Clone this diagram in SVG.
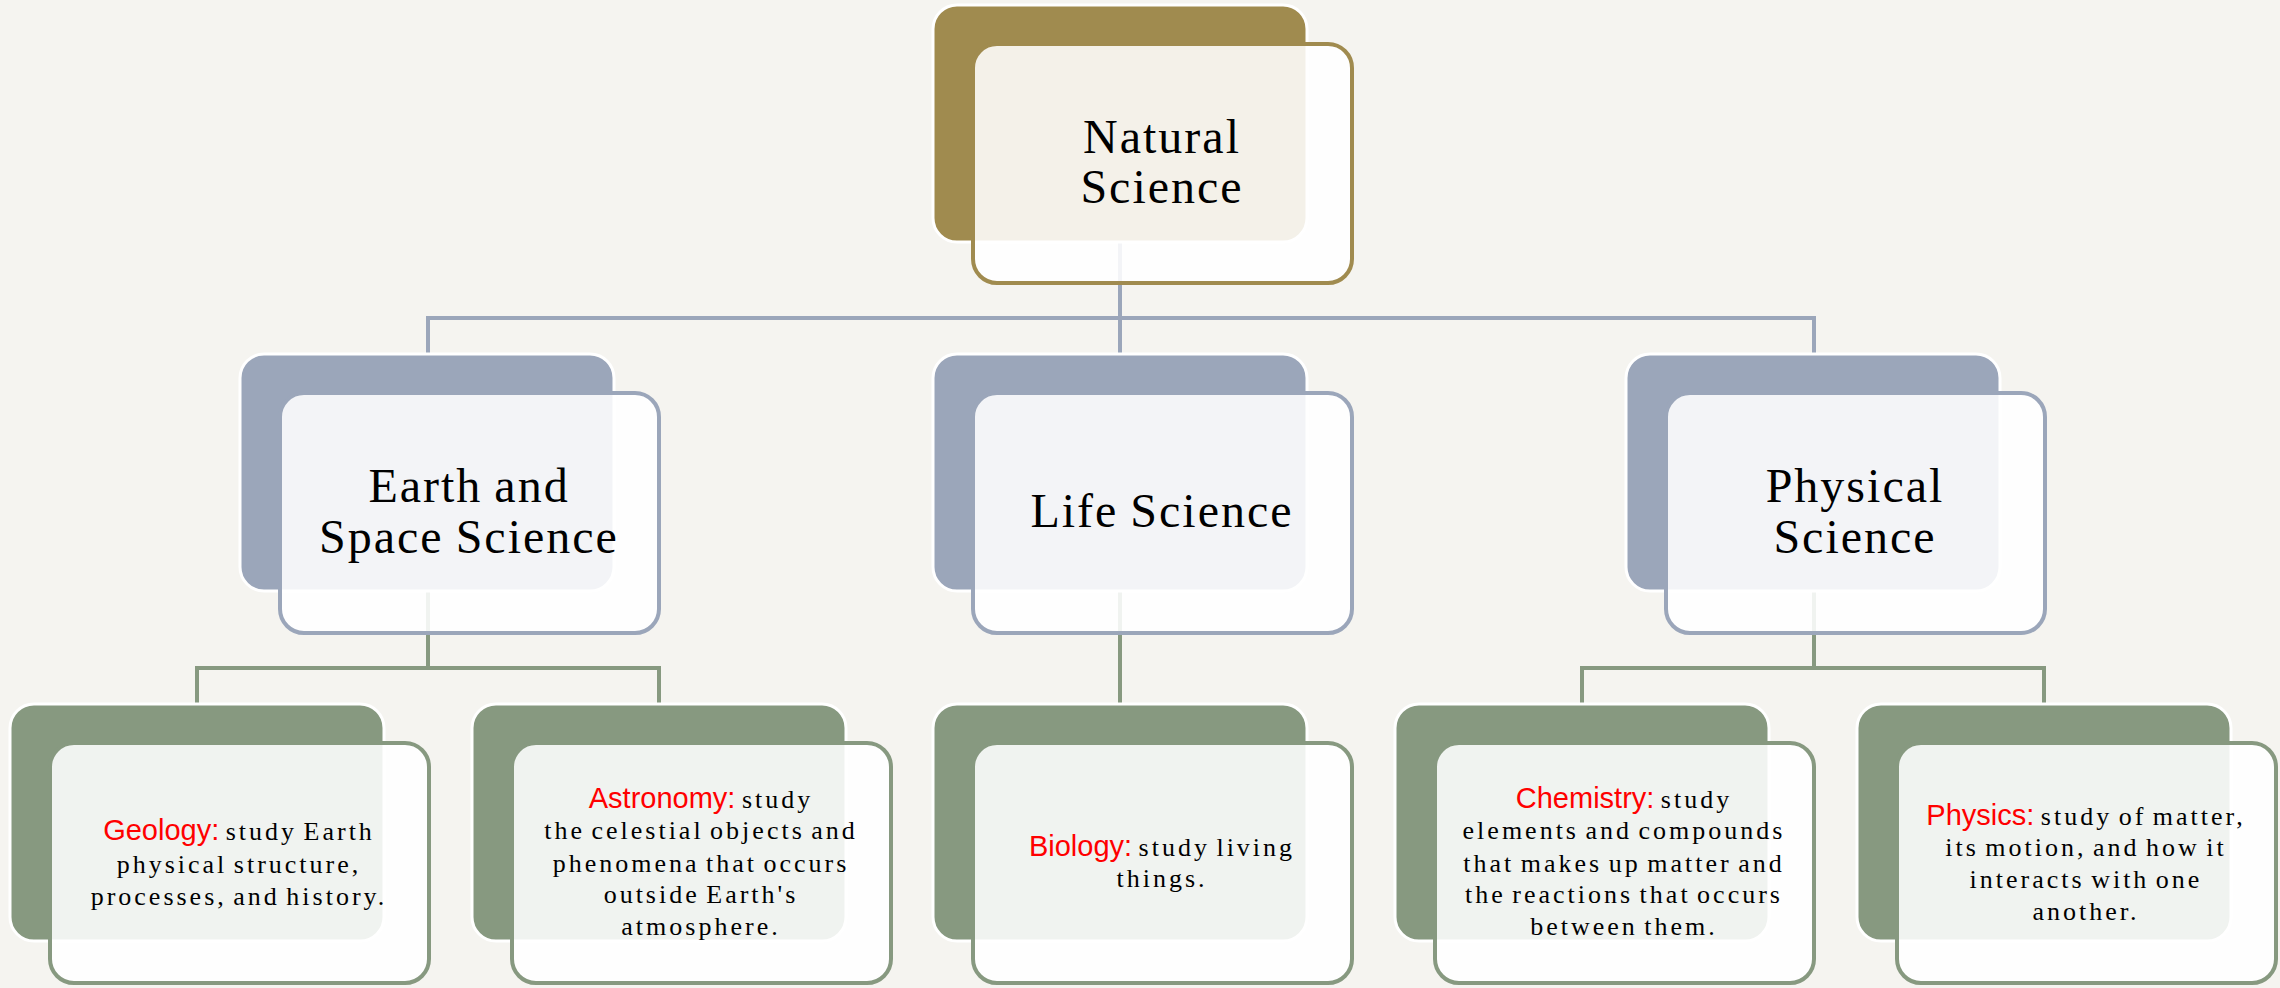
<svg xmlns="http://www.w3.org/2000/svg" width="2280" height="988" viewBox="0 0 2280 988">
<style>
.bg{fill:#F5F4F0}
.back{stroke:#FFFFFF;stroke-width:3}
.gold{fill:#A08B4F}
.blue{fill:#9BA6BA}
.green{fill:#879980}
.front{fill:#FFFFFF;fill-opacity:0.88;stroke-width:4}
.fgold{stroke:#A08B4F}
.fblue{stroke:#9BA6BA}
.fgreen{stroke:#879980}
.cblue{fill:none;stroke:#9BA6BA;stroke-width:4}
.cgreen{fill:none;stroke:#879980;stroke-width:4}
.title{font-family:"Liberation Serif","Times New Roman",serif;font-size:48px;letter-spacing:2px;word-spacing:-2px;fill:#000;text-anchor:middle}
.desc{font-family:"Liberation Serif","Times New Roman",serif;font-size:26px;letter-spacing:3px;word-spacing:-3px;fill:#000;text-anchor:middle}
.lbl{font-family:"Liberation Sans",Arial,sans-serif;font-size:29px;letter-spacing:0;word-spacing:0;fill:#FF0000}
</style>
<rect class="bg" x="0" y="0" width="2280" height="988"/>
<g id="connectors">
<path class="cblue" d="M1120 242V318M428 354V318H1814V354M1120 318V354"/>
<path class="cgreen" d="M428 591V668M197 704V668H659V704"/>
<path class="cgreen" d="M1120 591V704"/>
<path class="cgreen" d="M1814 591V668M1582 704V668H2044V704"/>
</g>
<g id="natural-science">
<rect class="back gold" x="933" y="5" width="374" height="237" rx="24"/>
<rect class="front fgold" x="973" y="44" width="379" height="239" rx="24"/>
<text class="title" x="1162" y="153">Natural</text>
<text class="title" x="1162" y="203">Science</text>
</g>
<g id="earth-space-science">
<rect class="back blue" x="240" y="354" width="374" height="237" rx="24"/>
<rect class="front fblue" x="280" y="393" width="379" height="240" rx="24"/>
<text class="title" x="469" y="502">Earth and</text>
<text class="title" x="469" y="553">Space Science</text>
</g>
<g id="life-science">
<rect class="back blue" x="933" y="354" width="374" height="237" rx="24"/>
<rect class="front fblue" x="973" y="393" width="379" height="240" rx="24"/>
<text class="title" x="1162" y="527">Life Science</text>
</g>
<g id="physical-science">
<rect class="back blue" x="1626" y="354" width="374" height="237" rx="24"/>
<rect class="front fblue" x="1666" y="393" width="379" height="240" rx="24"/>
<text class="title" x="1855" y="502">Physical</text>
<text class="title" x="1855" y="553">Science</text>
</g>
<g id="geology">
<rect class="back green" x="10" y="704" width="374" height="237" rx="24"/>
<rect class="front fgreen" x="50" y="743" width="379" height="240" rx="24"/>
<text class="desc" x="239" y="840"><tspan class="lbl">Geology:</tspan> study Earth</text>
<text class="desc" x="239" y="873">physical structure,</text>
<text class="desc" x="239" y="905">processes, and history.</text>
</g>
<g id="astronomy">
<rect class="back green" x="472" y="704" width="374" height="237" rx="24"/>
<rect class="front fgreen" x="512" y="743" width="379" height="240" rx="24"/>
<text class="desc" x="701" y="808"><tspan class="lbl">Astronomy:</tspan>  study</text>
<text class="desc" x="701" y="839">the celestial objects and</text>
<text class="desc" x="701" y="872">phenomena that occurs</text>
<text class="desc" x="701" y="903">outside Earth's</text>
<text class="desc" x="701" y="935">atmosphere.</text>
</g>
<g id="biology">
<rect class="back green" x="933" y="704" width="374" height="237" rx="24"/>
<rect class="front fgreen" x="973" y="743" width="379" height="240" rx="24"/>
<text class="desc" x="1162" y="856"><tspan class="lbl">Biology:</tspan> study living</text>
<text class="desc" x="1162" y="887">things.</text>
</g>
<g id="chemistry">
<rect class="back green" x="1395" y="704" width="374" height="237" rx="24"/>
<rect class="front fgreen" x="1435" y="743" width="379" height="240" rx="24"/>
<text class="desc" x="1624" y="808"><tspan class="lbl">Chemistry:</tspan>  study</text>
<text class="desc" x="1624" y="839">elements and compounds</text>
<text class="desc" x="1624" y="872">that makes up matter and</text>
<text class="desc" x="1624" y="903">the reactions that occurs</text>
<text class="desc" x="1624" y="935">between them.</text>
</g>
<g id="physics">
<rect class="back green" x="1857" y="704" width="374" height="237" rx="24"/>
<rect class="front fgreen" x="1897" y="743" width="379" height="240" rx="24"/>
<text class="desc" x="2086" y="825"><tspan class="lbl">Physics:</tspan> study of matter,</text>
<text class="desc" x="2086" y="856">its motion, and how it</text>
<text class="desc" x="2086" y="888">interacts with one</text>
<text class="desc" x="2086" y="920">another.</text>
</g>
</svg>
